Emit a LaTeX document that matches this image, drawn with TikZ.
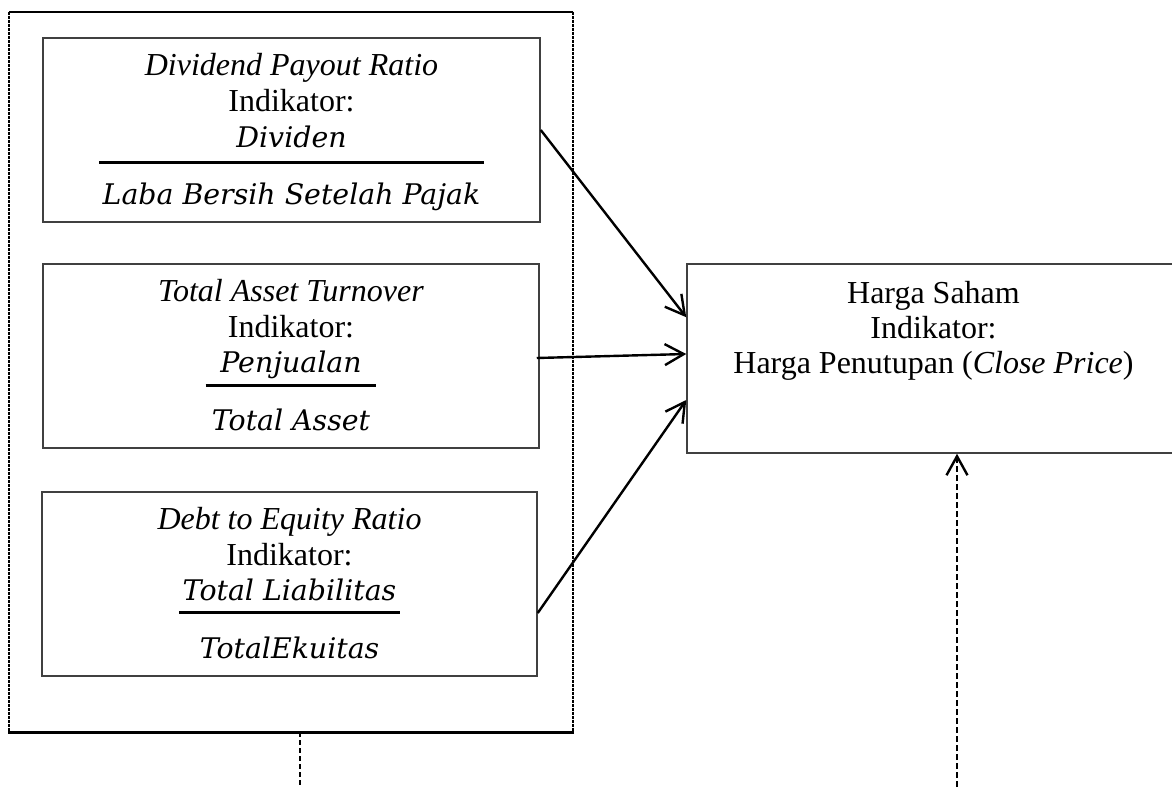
\documentclass[tikz,border=0pt]{standalone}
\usepackage{fontspec}
\setmainfont{Liberation Serif}
\newfontfamily\cambriasub{DejaVu Serif}
\usetikzlibrary{arrows.meta,calc}
\tikzset{
  box/.style={draw=black!75, line width=0.75pt, inner sep=0pt, minimum height=92pt},
  txt/.style={inner sep=0pt, anchor=base, font=\fontsize{16pt}{18pt}\selectfont},
  eq/.style={inner sep=0pt, anchor=base, font=\fontsize{14.2pt}{17pt}\selectfont\cambriasub\itshape},
  fracbar/.style={line width=1.4pt},
  conn/.style={line width=1.2pt, -{Straight Barb[length=9.5pt,width=10.5pt]}},
  dconn/.style={line width=1.2pt, dash pattern=on 3pt off 1.5pt, -{Straight Barb[length=9.5pt,width=10.5pt]}},
  dline/.style={line width=1.1pt, dash pattern=on 2.5pt off 1.5pt},
  grpside/.style={line width=1pt, dash pattern=on 1.5pt off 0.5pt},
  grptop/.style={line width=1.1pt},
  grpbottom/.style={line width=1.8pt},
}
\begin{document}
\begin{tikzpicture}[x=0.5pt,y=-0.5pt]
\useasboundingbox (0,0) rectangle (1172,787);
\clip (0,0) rectangle (1172,787);

% group frame
\node[inner sep=0pt, minimum width=281.75pt, minimum height=360pt] (grp) at (291.25,372) {};
\draw[grptop] (grp.north west) -- (grp.north east);
\draw[grpside] (grp.north west) -- (grp.south west);
\draw[grpside] (grp.north east) -- (grp.south east);
\draw[grpbottom] ([xshift=-0.5pt]grp.south west) -- ([xshift=0.5pt]grp.south east);

% box 1
\node[box, minimum width=248.5pt] (b1) at (291.5,130) {};
\node[txt] (t1) at ([yshift=-19pt]b1.north) {\textit{Dividend Payout Ratio}};
\node[txt] (i1) at ([yshift=-37pt]b1.north) {Indikator:};
\node[eq] (n1) at ([yshift=-55pt]b1.north) {Dividen};
\node[eq] (d1) at ([yshift=-83.5pt]b1.north) {Laba Bersih Setelah Pajak};
\draw[fracbar] let \p1=(n1.west),\p2=(d1.west),\p3=(n1.east),\p4=(d1.east),\p5=([yshift=-62.5pt]b1.north) in
  ({min(\x1,\x2)-1.5pt},\y5) -- ({max(\x3,\x4)+1.5pt},\y5);

% box 2
\node[box, minimum width=248pt] (b2) at (291,356) {};
\node[txt] (t2) at ([yshift=-19pt]b2.north) {\textit{Total Asset Turnover}};
\node[txt] (i2) at ([yshift=-37pt]b2.north) {Indikator:};
\node[eq] (n2) at ([yshift=-54.5pt]b2.north) {Penjualan};
\node[eq] (d2) at ([yshift=-83.5pt]b2.north) {Total Asset};
\draw[fracbar] let \p1=(n2.west),\p2=(d2.west),\p3=(n2.east),\p4=(d2.east),\p5=([yshift=-61pt]b2.north) in
  ({min(\x1,\x2)-3pt},\y5) -- ({max(\x3,\x4)+3pt},\y5);

% box 3
\node[box, minimum width=247.5pt] (b3) at (289.5,584) {};
\node[txt] (t3) at ([yshift=-19pt]b3.north) {\textit{Debt to Equity Ratio}};
\node[txt] (i3) at ([yshift=-37pt]b3.north) {Indikator:};
\node[eq] (n3) at ([yshift=-54.5pt]b3.north) {Total Liabilitas};
\node[eq] (d3) at ([yshift=-83.5pt]b3.north) {TotalEkuitas};
\draw[fracbar] let \p1=(n3.west),\p2=(d3.west),\p3=(n3.east),\p4=(d3.east),\p5=([yshift=-60.5pt]b3.north) in
  ({min(\x1,\x2)-1.5pt},\y5) -- ({max(\x3,\x4)+1.5pt},\y5);

% right box
\node[box, minimum width=246.5pt, minimum height=94.5pt] (hs) at (933.5,358.5) {};
\node[txt] (h1) at ([yshift=-20pt]hs.north) {Harga Saham};
\node[txt] (h2) at ([yshift=-37.5pt]hs.north) {Indikator:};
\node[txt] (h3) at ([yshift=-55pt]hs.north) {Harga Penutupan (\textit{Close Price})};

% connectors
\draw[conn] (b1.east) -- ([yshift=-27pt]hs.north west);
\draw[conn] ([xshift=-1.5pt,yshift=-1pt]b2.east) -- ([yshift=2.25pt]hs.west);
\draw[conn] ([yshift=-14.5pt]b3.east) -- ([yshift=-20.75pt]hs.west);

% dashed lines at bottom
\coordinate (e1) at (300,787);
\coordinate (e2) at (957,787);
\draw[dline] (e1 |- grp.south) -- (e1);
\draw[dconn] (e2) -- (e2 |- hs.south);
\end{tikzpicture}
\end{document}
